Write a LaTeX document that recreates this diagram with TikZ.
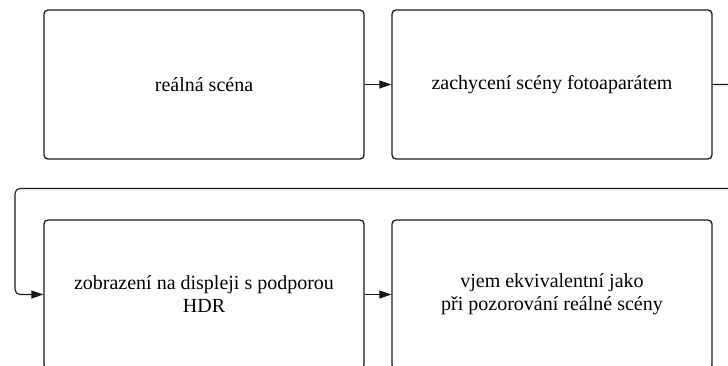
\documentclass[tikz,border=0pt]{standalone}
\usepackage{fontspec}
\setmainfont{Liberation Serif}
\usetikzlibrary{arrows.meta}
\begin{document}
\begin{tikzpicture}[x=1pt,y=-1pt,
  stagebox/.style={draw=black!90, line width=1.3pt, rounded corners=4pt,
    minimum width=320pt, minimum height=149pt, inner sep=0pt,
    align=center, font=\fontsize{20}{23}\selectfont},
  link/.style={draw=black!90, line width=1.1pt,
    -{Triangle[length=12pt,width=8pt]}}]
  \useasboundingbox (0,0) rectangle (728,365);
  \begin{scope}
    \clip (0,0) rectangle (728,365);
    \node[stagebox] (scene)   at (204,84.5)  {reálná scéna};
    \node[stagebox] (capture) at (552,84.5)  {zachycení scény fotoaparátem};
    \node[stagebox] (display) at (204,294.5) {zobrazení na displeji s podporou\\HDR};
    \node[stagebox] (percept) at (552,294.5) {vjem ekvivalentní jako\\při pozorování reálné scény};
    \coordinate (turn) at (760,188.5);
    \draw[link] (scene) -- (capture);
    \draw[link] (display) -- (percept);
    \draw[link, rounded corners=5pt] (capture.east) -- (turn |- capture.east) -- (turn)
      -- (15,188.5) |- (display.west);
  \end{scope}
\end{tikzpicture}
\end{document}
